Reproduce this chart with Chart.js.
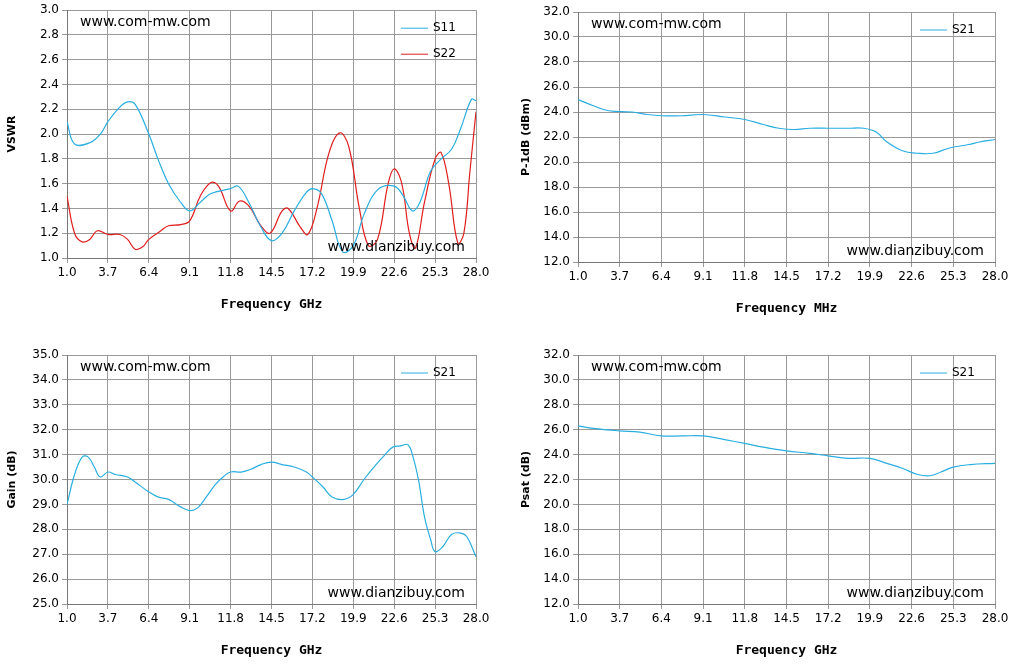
<!DOCTYPE html>
<html><head><meta charset="utf-8">
<script src="https://cdn.jsdelivr.net/npm/chart.js@4"></script>
<style>
body{margin:0;background:#fff;width:1014px;height:667px;position:relative;overflow:hidden}
canvas{position:absolute}
</style></head><body>
<canvas id="c1" style="left:0;top:0"></canvas>
<canvas id="c2" style="left:507px;top:0"></canvas>
<canvas id="c3" style="left:0;top:330px"></canvas>
<canvas id="c4" style="left:507px;top:330px"></canvas>
<script>
var xTicks = [1.0, 3.7, 6.4, 9.1, 11.8, 14.5, 17.2, 19.9, 22.6, 25.3, 28.0];

var s11F = [1.0,1.5,2.5,3.2,3.7,4.5,5.0,5.5,6.4,7.0,7.7,8.5,9.1,9.8,10.5,11.8,12.3,13.0,13.8,14.5,15.2,16.0,16.8,17.2,17.8,18.5,19.2,19.9,20.6,21.5,22.6,23.2,23.8,24.3,25.0,25.7,26.4,27.0,27.7,28.0];
var s11V = [2.1,1.92,1.93,2.0,2.1,2.22,2.26,2.24,2.0,1.8,1.6,1.45,1.38,1.45,1.52,1.56,1.58,1.45,1.25,1.14,1.2,1.38,1.53,1.56,1.52,1.3,1.05,1.1,1.35,1.55,1.58,1.5,1.38,1.45,1.7,1.8,1.88,2.05,2.28,2.27];
var s22F = [1.0,1.5,2.0,2.5,3.0,3.7,4.5,5.0,5.5,6.0,6.4,7.2,7.7,8.5,9.1,9.8,10.5,11.0,11.8,12.4,13.0,13.8,14.4,15.2,15.6,16.4,16.9,17.5,18.3,19.0,19.6,20.3,20.9,21.5,22.2,22.6,23.1,23.6,24.0,24.6,25.3,25.7,26.2,26.8,27.2,27.6,28.0];
var s22V = [1.5,1.2,1.13,1.15,1.22,1.19,1.19,1.15,1.07,1.09,1.15,1.22,1.26,1.27,1.3,1.5,1.61,1.58,1.38,1.46,1.42,1.26,1.2,1.38,1.4,1.25,1.19,1.4,1.85,2.01,1.9,1.4,1.1,1.15,1.6,1.72,1.6,1.2,1.08,1.45,1.8,1.85,1.6,1.12,1.2,1.7,2.18];

var p1dbF = [1.0,2.0,3.0,4.5,5.5,6.4,7.7,9.1,10.5,11.8,13.0,14.0,15.0,16.0,17.2,18.5,19.5,20.3,21.0,22.0,23.0,24.0,25.0,26.3,27.0,28.0];
var p1dbV = [25.0,24.5,24.1,24.0,23.8,23.7,23.7,23.8,23.6,23.4,23.0,22.7,22.6,22.7,22.7,22.7,22.7,22.4,21.6,20.9,20.7,20.7,21.1,21.4,21.6,21.8];

var gainF = [1.0,1.5,2.0,2.4,2.8,3.2,3.7,4.2,5.0,5.5,6.4,7.0,7.7,8.5,9.1,9.6,10.2,10.8,11.3,11.8,12.5,13.1,13.8,14.5,15.2,16.0,16.8,17.2,17.9,18.5,19.3,19.9,20.6,21.4,22.0,22.5,23.0,23.5,23.8,24.2,24.6,25.0,25.3,25.8,26.4,27.0,27.4,28.0];
var gainV = [29.0,30.2,30.9,30.9,30.5,30.1,30.3,30.2,30.1,29.9,29.5,29.3,29.2,28.9,28.75,28.85,29.3,29.8,30.1,30.3,30.3,30.4,30.6,30.7,30.6,30.5,30.3,30.1,29.7,29.3,29.2,29.4,30.0,30.6,31.0,31.3,31.35,31.4,31.0,30.0,28.5,27.6,27.1,27.3,27.8,27.85,27.7,26.9];

var psatF = [1.0,2.0,3.7,5.0,6.4,7.7,9.1,10.5,11.8,13.0,14.5,16.0,17.2,18.5,19.9,21.0,22.0,23.0,23.8,24.5,25.3,26.4,28.0];
var psatV = [26.3,26.1,25.9,25.8,25.5,25.5,25.5,25.2,24.9,24.6,24.3,24.1,23.9,23.7,23.7,23.3,22.9,22.4,22.3,22.6,23.0,23.2,23.3];

var BLUE = '#2aaee0', RED = '#e01e1e';

function pts(f, v) { return f.map(function (x, i) { return {x: x, y: v[i]}; }); }

function makeChart(id, box, yr, series, xTitle, yTitle) {
    var c = document.getElementById(id);
    c.width = box.w; c.height = box.h;
    c.style.width = box.w + 'px'; c.style.height = box.h + 'px';
    var deco = {
        id: 'deco',
        afterDraw: function (ch) {
            var ctx = ch.ctx, a = ch.chartArea;
            ctx.save();
            ctx.fillStyle = '#000';
            ctx.font = '14px "DejaVu Sans"';
            ctx.textBaseline = 'middle';
            ctx.textAlign = 'left';
            ctx.fillText('www.com-mw.com', a.left + 13, a.top + 12);
            ctx.textAlign = 'right';
            ctx.fillText('www.dianzibuy.com', a.right - 11, a.bottom - 11);
            // legend
            ctx.textAlign = 'left';
            ctx.font = '12px "DejaVu Sans"';
            series.forEach(function (s, i) {
                var ly = a.top + 18 + i * 26;
                ctx.strokeStyle = s.color; ctx.lineWidth = 1;
                ctx.beginPath(); ctx.moveTo(a.right - 75, ly); ctx.lineTo(a.right - 48, ly); ctx.stroke();
                ctx.fillStyle = '#000';
                ctx.fillText(s.label, a.right - 43, ly);
            });
            ctx.font = 'bold 13px "DejaVu Sans Mono"';
            ctx.textAlign = 'center';
            ctx.fillText(xTitle, (a.left + a.right) / 2, a.bottom + 47);
            ctx.translate(box.ty, (a.top + a.bottom) / 2);
            ctx.rotate(-Math.PI / 2);
            ctx.font = 'bold 11px "DejaVu Sans"';
            ctx.fillText(yTitle, 0, 0);
            ctx.restore();
        }
    };
    new Chart(c, {
        type: 'line',
        data: {
            datasets: series.map(function (s) {
                return {label: s.label, data: pts(s.f, s.v), borderColor: s.color, borderWidth: 1.2,
                        pointRadius: 0, tension: 0.4, fill: false};
            })
        },
        options: {
            responsive: false, animation: false,
            layout: {padding: {left: 0, top: box.T, right: box.w - box.R, bottom: 0}},
            plugins: {legend: {display: false}, tooltip: {enabled: false}},
            scales: {
                x: {
                    type: 'linear', min: 1, max: 28,
                    afterBuildTicks: function (sc) { sc.ticks = xTicks.map(function (v) { return {value: v}; }); },
                    afterFit: function (sc) { sc.height = box.h - box.B; },
                    ticks: {color: '#000', font: {size: 12, family: 'DejaVu Sans'}, maxRotation: 0, autoSkip: false,
                            callback: function (v) { return v.toFixed(1); }},
                    grid: {color: '#9a9a9a', drawTicks: true, tickLength: 5},
                    border: {color: '#777'}
                },
                y: {
                    min: yr[0], max: yr[1],
                    afterFit: function (sc) { sc.width = box.L; },
                    ticks: {stepSize: yr[2], color: '#000', font: {size: 12, family: 'DejaVu Sans'},
                            callback: function (v) { return v.toFixed(1); }},
                    grid: {color: '#9a9a9a', tickLength: 5},
                    border: {color: '#777'}
                }
            }
        },
        plugins: [deco]
    });
}

makeChart('c1', {w: 507, h: 330, L: 67, R: 476, T: 8, B: 258, ty: 12}, [1, 3, 0.2],
    [{label: 'S11', f: s11F, v: s11V, color: BLUE}, {label: 'S22', f: s22F, v: s22V, color: RED}],
    'Frequency GHz', 'VSWR');
makeChart('c2', {w: 507, h: 330, L: 71, R: 488, T: 12, B: 262, ty: 19}, [12, 32, 2],
    [{label: 'S21', f: p1dbF, v: p1dbV, color: BLUE}], 'Frequency MHz', 'P-1dB (dBm)');
makeChart('c3', {w: 507, h: 337, L: 67, R: 476, T: 25, B: 274, ty: 12}, [25, 35, 1],
    [{label: 'S21', f: gainF, v: gainV, color: BLUE}], 'Frequency GHz', 'Gain (dB)');
makeChart('c4', {w: 507, h: 337, L: 71, R: 488, T: 25, B: 274, ty: 19}, [12, 32, 2],
    [{label: 'S21', f: psatF, v: psatV, color: BLUE}], 'Frequency GHz', 'Psat (dB)');
</script>
</body></html>
